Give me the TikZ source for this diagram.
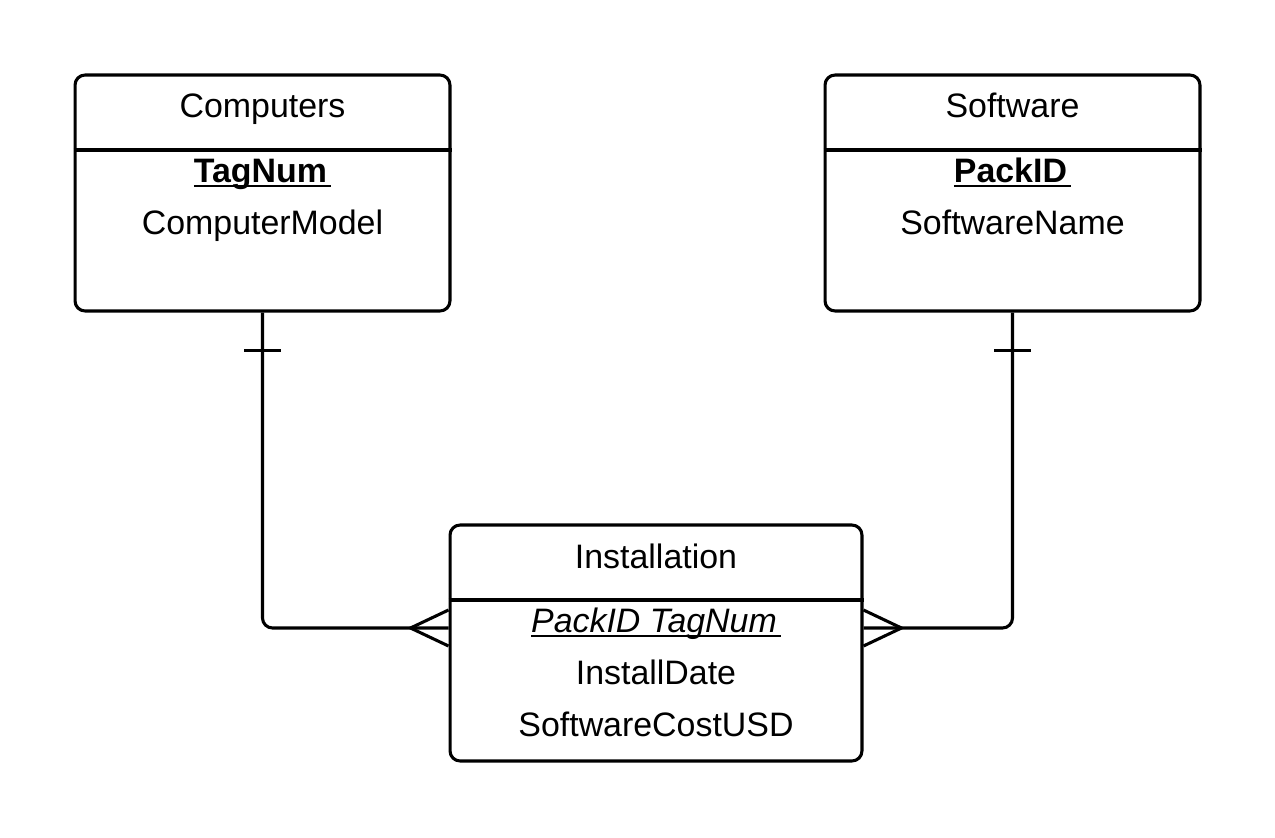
\documentclass[tikz,border=0pt]{standalone}
\usepackage{fontspec}
\setmainfont{Liberation Sans}
\newcommand\keyul[1]{\setbox0\hbox{#1\kern0.12em}\rlap{\rule[-0.14em]{\wd0}{0.075em}}\box0}
\begin{document}
\begin{tikzpicture}[x=0.02cm,y=-0.02cm,
  entity/.style={draw, rounded corners=0.2cm, inner sep=0pt, line width=1.75pt},
  lbl/.style={anchor=base, font=\fontsize{19.3}{23}\selectfont, inner sep=0pt},
  link/.style={line width=1.75pt, rounded corners=0.2cm},
  mark line/.style={line width=1.75pt}]
\useasboundingbox (0,0) rectangle (1275,838);
% entities
\node[entity, minimum width=7.5cm, minimum height=4.72cm] (comp) at (262.5,193) {};
\node[entity, minimum width=7.5cm, minimum height=4.72cm] (soft) at (1012.5,193) {};
\node[entity, minimum width=8.24cm, minimum height=4.72cm] (inst) at (656,643) {};
% header separators
\coordinate (h1) at (0,150);
\coordinate (h2) at (0,600);
\draw[mark line] (comp.west |- h1) -- (comp.east |- h1);
\draw[mark line] (soft.west |- h1) -- (soft.east |- h1);
\draw[mark line] (inst.west |- h2) -- (inst.east |- h2);
% texts
\node[lbl] (compT) at (262.5,118) {Computers};
\node[lbl] (compK) at (262.5,182.5) {\keyul{\bfseries TagNum}};
\node[lbl] (compA) at (262.5,234.5) {ComputerModel};
\node[lbl] (softT) at (1012.5,118) {Software};
\node[lbl] (softK) at (1012.5,182.5) {\keyul{\bfseries PackID}};
\node[lbl] (softA) at (1012.5,234.5) {SoftwareName};
\node[lbl] (instT) at (656,568) {Installation};
\node[lbl] (instK) at (656,632.5) {\keyul{\itshape PackID TagNum}};
\node[lbl] (instA) at (656,684.5) {InstallDate};
\node[lbl] (instB) at (656,736) {SoftwareCostUSD};
% connectors
\draw[link] (comp.south) |- ([yshift=0.3cm]inst.west);
\draw[link] (soft.south) |- ([yshift=0.3cm]inst.east);
% one marks
\draw[mark line] ([xshift=-0.37cm,yshift=-0.76cm]comp.south) -- ([xshift=0.37cm,yshift=-0.76cm]comp.south);
\draw[mark line] ([xshift=-0.37cm,yshift=-0.76cm]soft.south) -- ([xshift=0.37cm,yshift=-0.76cm]soft.south);
% many marks
\draw[mark line] ([yshift=0.66cm]inst.west) -- ([xshift=-0.76cm,yshift=0.3cm]inst.west) -- ([yshift=-0.06cm]inst.west);
\draw[mark line] ([yshift=0.66cm]inst.east) -- ([xshift=0.76cm,yshift=0.3cm]inst.east) -- ([yshift=-0.06cm]inst.east);
\end{tikzpicture}
\end{document}
